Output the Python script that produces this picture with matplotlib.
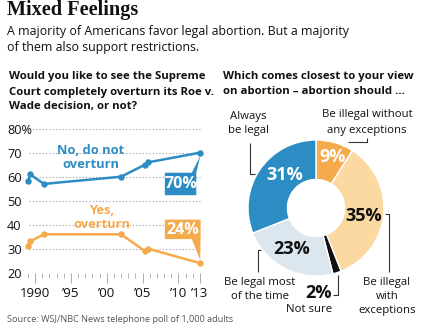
#!/usr/bin/env python3
# -*- coding: utf-8 -*-
"""Mixed Feelings: Roe v. Wade poll line chart + abortion views donut."""

import numpy as np
import matplotlib
matplotlib.use("Agg")
import matplotlib.pyplot as plt
from matplotlib.patches import Polygon

W, H = 425, 325

# --- data -------------------------------------------------------------
poll_years = [1989.05, 1989.3, 1991.25, 2002.0, 2005.35, 2005.8, 2013.0]
no_overturn = [58, 61, 57, 60, 65, 66, 70]
yes_overturn = [31, 33, 36, 36, 29, 30, 24]

y_ticks = [20, 30, 40, 50, 60, 70, 80]
y_tick_labels = ["20", "30", "40", "50", "60", "70", "80%"]
x_major = [1990, 1995, 2000, 2005, 2010, 2013]
x_major_labels = ["1990", "\u201995", "\u201900", "\u201905", "\u201910", "\u201913"]

view_labels = ["Be illegal without any exceptions", "Be illegal with exceptions",
               "Not sure", "Be legal most of the time", "Always be legal"]
view_shares = [9, 35, 2, 23, 31]

# --- style ------------------------------------------------------------
BLUE = "#2b8dc3"
ORANGE = "#f5aa4c"
LIGHT_ORANGE = "#fcd9a1"
LIGHT_BLUE = "#dce6ef"
DARK = "#111111"
GRID = "#9a9a9a"
SANS = "Open Sans"
NARROW = ["Liberation Sans Narrow", "Open Sans", "DejaVu Sans"]

plt.rcParams["font.family"] = [SANS, "DejaVu Sans"]

fig = plt.figure(figsize=(W / 100, H / 100), dpi=100)
fig.patch.set_facecolor("white")

# overlay in pixel coordinates (y down) for headings and leader lines
ov = fig.add_axes([0, 0, 1, 1], zorder=5)
ov.set_xlim(0, W)
ov.set_ylim(H, 0)
ov.axis("off")
ov.patch.set_alpha(0)


def txt(x, y, s, size, **kw):
    kw.setdefault("va", "center")
    kw.setdefault("ha", "left")
    kw.setdefault("color", DARK)
    ov.text(x, y, s, fontsize=size, **kw)


def line(xs, ys, color="#333333", lw=0.8):
    ov.plot(xs, ys, color=color, lw=lw, solid_capstyle="butt")


# headings
txt(7, 10, "Mixed Feelings", 14.6, family="Liberation Serif", weight="bold")
txt(7, 32, "A majority of Americans favor legal abortion. But a majority", 8.9)
txt(7, 47, "of them also support restrictions.", 8.9)

for i, s in enumerate(["Would you like to see the Supreme",
                       "Court completely overturn its Roe v.",
                       "Wade decision, or not?"]):
    txt(9, 77 + 15 * i, s, 8.2, weight="bold")
for i, s in enumerate(["Which comes closest to your view",
                       "on abortion \u2013 abortion should ..."]):
    txt(223, 77 + 15 * i, s, 8.2, weight="bold")

txt(7, 320, "Source: WSJ/NBC News telephone poll of 1,000 adults", 6.6,
    color="#555555")

# --- line chart -------------------------------------------------------
ax_l, ax_r = 25.7, 201.3
ax_t, ax_b = 128.7, 272.7
ax = fig.add_axes([ax_l / W, 1 - ax_b / H, (ax_r - ax_l) / W, (ax_b - ax_t) / H])
ax.set_xlim(1988.7, 2013.2)
ax.set_ylim(20, 80)
ax.patch.set_alpha(0)
for sp in ax.spines.values():
    sp.set_visible(False)
ax.set_yticks(y_ticks)
ax.set_yticklabels(y_tick_labels)
ax.tick_params(axis="y", length=0, pad=13.5, labelsize=9.2, labelcolor=DARK)
for lab in ax.get_yticklabels():
    lab.set_horizontalalignment("left")
ax.hlines(y_ticks, 1989.2, 2013, colors=GRID, linestyles=(0, (1, 2)), lw=0.8,
          zorder=1)

ax.set_xticks(x_major)
ax.set_xticklabels(x_major_labels)
ax.set_xticks(np.arange(1989, 2014), minor=True)
ax.tick_params(axis="x", which="major", length=7, width=0.7, color="#aaaaaa",
               labelsize=9.5, labelcolor=DARK, pad=3)
ax.tick_params(axis="x", which="minor", length=3.5, width=0.6, color="#aaaaaa")

ax.plot(poll_years, no_overturn, color=BLUE, lw=1.8, marker="o", ms=3.6,
        zorder=3, clip_on=False)
ax.plot(poll_years, yes_overturn, color=ORANGE, lw=1.8, marker="o", ms=3.6,
        zorder=3, clip_on=False)

ax.text(1997.8, 67.8, "No, do not\noverturn", color=BLUE, fontsize=9.3,
        weight="bold", ha="center", va="center", linespacing=1.1)
ax.text(1999.3, 43.2, "Yes,\noverturn", color=ORANGE, fontsize=9.3,
        weight="bold", ha="center", va="center", linespacing=1.1)


def to_px(x, y):
    dx, dy = ax.transData.transform((x, y))
    return dx, H - dy


# callouts at the latest value
bx, by = to_px(poll_years[-1], no_overturn[-1])
ov.add_patch(Polygon([(bx - 35, by + 20), (bx - 8, by + 20), (bx + 0.5, by + 3),
                      (bx - 3.6, by + 20), (bx - 3.6, by + 42.5), (bx - 35, by + 42.5)],
                     closed=True, fc=BLUE, ec="none"))
txt(bx - 19.3, by + 31.5, f"{no_overturn[-1]}%", 11.5, color="white",
    weight="bold", ha="center", family=NARROW)

ox, oy = to_px(poll_years[-1], yes_overturn[-1])
ov.add_patch(Polygon([(ox - 35, oy - 43.5), (ox + 0.7, oy - 43.5), (ox + 0.7, oy - 24),
                      (ox + 0.3, oy - 3), (ox - 8, oy - 24), (ox - 35, oy - 24)],
                     closed=True, fc=ORANGE, ec="none"))
txt(ox - 17.2, oy - 33.5, f"{yes_overturn[-1]}%", 11.5, color="white",
    weight="bold", ha="center", family=NARROW)

# --- donut ------------------------------------------------------------
cx, cy, R = 316, 208, 68
axp = fig.add_axes([(cx - R) / W, 1 - (cy + R) / H, 2 * R / W, 2 * R / H])
axp.pie(view_shares, colors=[ORANGE, LIGHT_ORANGE, DARK, LIGHT_BLUE, BLUE],
        startangle=90, counterclock=False, radius=1,
        wedgeprops=dict(width=0.58, edgecolor="white", linewidth=1.0))
axp.set_xlim(-1, 1)
axp.set_ylim(-1, 1)
axp.set_aspect("equal")

pct = [f"{v}%" for v in view_shares]
pk = dict(weight="bold", ha="center", family=NARROW)
txt(333, 157, pct[0], 13, color="white", **pk)
txt(364, 216, pct[1], 13, color=DARK, **pk)
txt(318.5, 293, pct[2], 13, color=DARK, **pk)
txt(292, 249, pct[3], 13, color=DARK, **pk)
txt(285, 175, pct[4], 13, color="white", **pk)

# category labels and leaders
txt(248, 116, "Always", 8.2, ha="center")
txt(248, 131, "be legal", 8.2, ha="center")
line([250, 250, 255], [143, 174, 174])

txt(367, 115, "Be illegal without", 8.2, ha="center")
txt(367, 131, "any exceptions", 8.2, ha="center")
line([348, 367, 367], [141.5, 141.5, 137.5])

for i, s in enumerate(["Be illegal", "with", "exceptions"]):
    txt(387, 282 + 14.5 * i, s, 8.2, ha="center")
line([385, 389, 389], [213.5, 213.5, 271.5])

for i, s in enumerate(["Be legal most", "of the time"]):
    txt(260, 282 + 14.5 * i, s, 8.2, ha="center")
line([261.5, 257.7, 257.7], [250, 250, 271.5])

txt(309.5, 309.5, "Not sure", 8.2, ha="center")
line([337.7, 337.7, 333], [274.5, 295, 295])

fig.savefig("out.png", dpi=100, facecolor="white")
